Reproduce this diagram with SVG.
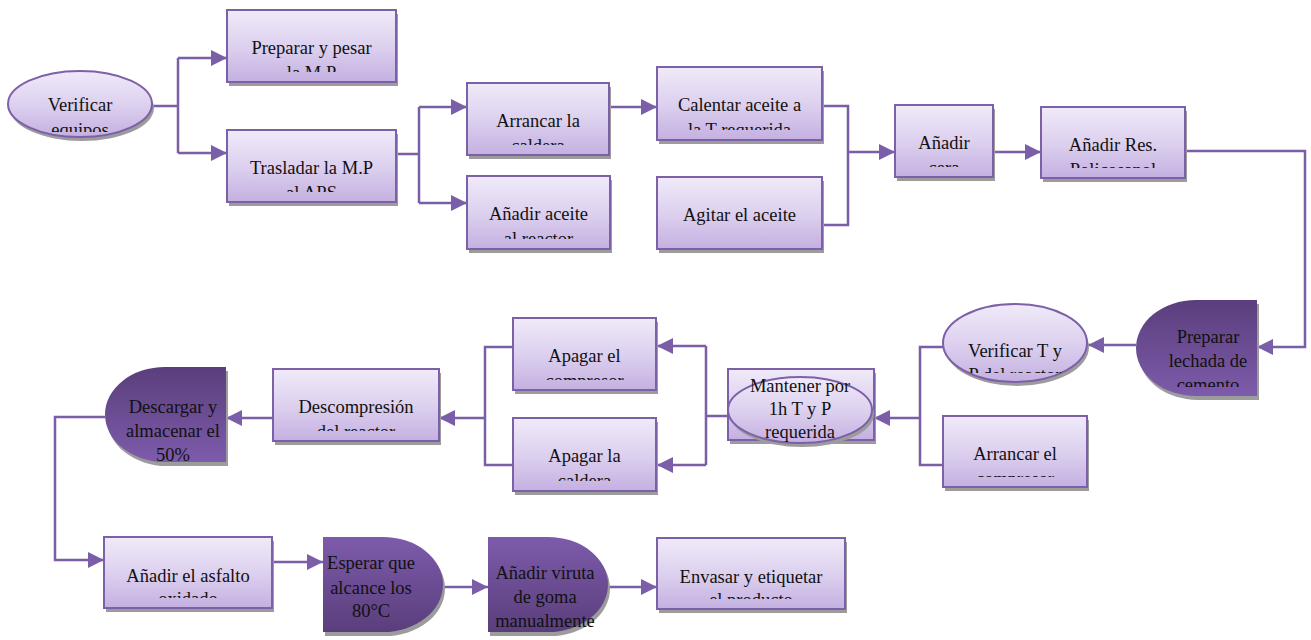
<svg xmlns="http://www.w3.org/2000/svg" width="1311" height="640" viewBox="0 0 1311 640">
<defs>
<linearGradient id="gl" x1="0" y1="0" x2="0" y2="1">
<stop offset="0" stop-color="#f0eaf9"/><stop offset="0.5" stop-color="#ddd1ef"/><stop offset="1" stop-color="#c4b0e1"/>
</linearGradient>
<linearGradient id="gdDown" x1="0" y1="0" x2="0" y2="1">
<stop offset="0" stop-color="#5a3e7c"/><stop offset="1" stop-color="#7d5bab"/>
</linearGradient>
<linearGradient id="gdUp" x1="0" y1="0" x2="0" y2="1">
<stop offset="0" stop-color="#7d5bab"/><stop offset="1" stop-color="#5a3e7c"/>
</linearGradient>
<marker id="arr" markerUnits="userSpaceOnUse" markerWidth="17" markerHeight="16" refX="16" refY="8" orient="auto">
<path d="M0,0 L16,8 L0,16 Z" fill="#7a5ea8"/>
</marker>
<clipPath id="c-prep"><rect x="220" y="0" width="185" height="72"/></clipPath>
<clipPath id="c-trasl"><rect x="220" y="120" width="185" height="72"/></clipPath>
<clipPath id="c-ver"><rect x="0" y="60" width="170" height="72"/></clipPath>
<clipPath id="c-arrL"><rect x="460" y="75" width="160" height="70"/></clipPath>
<clipPath id="c-anAc"><rect x="460" y="170" width="160" height="69"/></clipPath>
<clipPath id="c-cal"><rect x="650" y="60" width="180" height="70"/></clipPath>
<clipPath id="c-cera"><rect x="890" y="100" width="110" height="67"/></clipPath>
<clipPath id="c-res"><rect x="1035" y="100" width="160" height="68"/></clipPath>
<clipPath id="c-lech"><rect x="1130" y="295" width="135" height="92"/></clipPath>
<clipPath id="c-vtp"><rect x="935" y="300" width="160" height="73"/></clipPath>
<clipPath id="c-arrEl"><rect x="935" y="410" width="160" height="67"/></clipPath>
<clipPath id="c-apEl"><rect x="505" y="310" width="160" height="70"/></clipPath>
<clipPath id="c-apLa"><rect x="505" y="410" width="160" height="71"/></clipPath>
<clipPath id="c-desc"><rect x="265" y="360" width="180" height="71"/></clipPath>
<clipPath id="c-asf"><rect x="95" y="530" width="185" height="68"/></clipPath>
<clipPath id="c-env"><rect x="650" y="530" width="200" height="69"/></clipPath>
</defs>
<style>
.box{fill:url(#gl);stroke:#7c61a8;stroke-width:2}
.sh{fill:#9c9c9c}
.dk{stroke:none}
.t{font-family:"Liberation Serif","Times New Roman",serif;font-size:18.5px;fill:#111;text-anchor:middle}
.ln{fill:none;stroke:#7a5ea8;stroke-width:2.5}
.ar{fill:none;stroke:#7a5ea8;stroke-width:2.5;marker-end:url(#arr)}
</style>
<rect width="1311" height="640" fill="#ffffff"/>

<g id="connectors">
<path class="ln" d="M153,106 H178 M178,58 V153"/>
<path class="ar" d="M178,58 H227"/>
<path class="ar" d="M178,153 H227"/>
<path class="ln" d="M396,154 H419 M419,107 V203"/>
<path class="ar" d="M419,107 H467"/>
<path class="ar" d="M419,203 H467"/>
<path class="ar" d="M609,107 H657"/>
<path class="ln" d="M822,106 H848 V225 H822"/>
<path class="ar" d="M848,152 H895"/>
<path class="ar" d="M993,152 H1041"/>
<path class="ar" d="M1185,151 H1305 V347 H1257"/>
<path class="ar" d="M1136,345 H1088"/>
<path class="ln" d="M943,347 H920 V465 H943"/>
<path class="ar" d="M920,418 H874"/>
<path class="ln" d="M728,416 H706 M706,346 V465"/>
<path class="ar" d="M706,346 H657"/>
<path class="ar" d="M706,465 H657"/>
<path class="ln" d="M513,347 H485 V465 H513"/>
<path class="ar" d="M485,418 H439"/>
<path class="ar" d="M273,418 H226"/>
<path class="ar" d="M105,417 H55 V560 H104"/>
<path class="ar" d="M272,562 H323"/>
<path class="ar" d="M443,587 H488"/>
<path class="ar" d="M609,587 H657"/>
</g>

<g id="n-verificar-equipos">
<ellipse class="sh" cx="82" cy="108" rx="72" ry="33"/>
<ellipse class="box" cx="80" cy="104" rx="72" ry="33"/>
<g clip-path="url(#c-ver)"><text class="t" x="80" y="111">Verificar</text><text class="t" x="80" y="136">equipos</text></g>
</g>

<g id="n-preparar-pesar">
<rect class="sh" x="229" y="14" width="169" height="72"/>
<rect class="box" x="227" y="10" width="169" height="72"/>
<g clip-path="url(#c-prep)"><text class="t" x="311.5" y="54">Preparar y pesar</text><text class="t" x="311.5" y="79">la M.P</text></g>
</g>

<g id="n-trasladar">
<rect class="sh" x="229" y="134" width="169" height="72"/>
<rect class="box" x="227" y="130" width="169" height="72"/>
<g clip-path="url(#c-trasl)"><text class="t" x="311.5" y="174">Trasladar la M.P</text><text class="t" x="311.5" y="199">al APS</text></g>
</g>

<g id="n-arrancar-caldera">
<rect class="sh" x="469" y="87" width="142" height="72"/>
<rect class="box" x="467" y="83" width="142" height="72"/>
<g clip-path="url(#c-arrL)"><text class="t" x="538" y="127">Arrancar la</text><text class="t" x="538" y="152">caldera</text></g>
</g>

<g id="n-anadir-aceite">
<rect class="sh" x="469" y="180" width="143" height="73"/>
<rect class="box" x="467" y="176" width="143" height="73"/>
<g clip-path="url(#c-anAc)"><text class="t" x="538.5" y="220">Añadir aceite</text><text class="t" x="538.5" y="245">al reactor</text></g>
</g>

<g id="n-calentar">
<rect class="sh" x="659" y="71" width="165" height="73"/>
<rect class="box" x="657" y="67" width="165" height="73"/>
<g clip-path="url(#c-cal)"><text class="t" x="739.5" y="111">Calentar aceite a</text><text class="t" x="739.5" y="136">la T requerida</text></g>
</g>

<g id="n-agitar">
<rect class="sh" x="659" y="181" width="165" height="72"/>
<rect class="box" x="657" y="177" width="165" height="72"/>
<text class="t" x="739.5" y="221">Agitar el aceite</text>
</g>

<g id="n-anadir-cera">
<rect class="sh" x="897" y="109" width="98" height="72"/>
<rect class="box" x="895" y="105" width="98" height="72"/>
<g clip-path="url(#c-cera)"><text class="t" x="944" y="149">Añadir</text><text class="t" x="944" y="174">cera</text></g>
</g>

<g id="n-anadir-res">
<rect class="sh" x="1043" y="111" width="144" height="71"/>
<rect class="box" x="1041" y="107" width="144" height="71"/>
<g clip-path="url(#c-res)"><text class="t" x="1113" y="151">Añadir Res.</text><text class="t" x="1113" y="176">Policosanol</text></g>
</g>

<g id="n-preparar-lechada">
<path class="sh" d="M1259,304 V400 H1198 A60,48 0 0 1 1198,304 Z"/>
<path class="dk" fill="url(#gdDown)" d="M1257,300 V396 H1196 A60,48 0 0 1 1196,300 Z"/>
<g clip-path="url(#c-lech)"><text class="t" x="1208" y="343">Preparar</text><text class="t" x="1208" y="367">lechada de</text><text class="t" x="1208" y="391">cemento</text></g>
</g>

<g id="n-verificar-tp">
<ellipse class="sh" cx="1017" cy="347" rx="72" ry="39"/>
<ellipse class="box" cx="1015" cy="343" rx="72" ry="39"/>
<g clip-path="url(#c-vtp)"><text class="t" x="1015" y="357">Verificar T y</text><text class="t" x="1015" y="381">P del reactor</text></g>
</g>

<g id="n-arrancar-compresor">
<rect class="sh" x="945" y="420" width="144" height="71"/>
<rect class="box" x="943" y="416" width="144" height="71"/>
<g clip-path="url(#c-arrEl)"><text class="t" x="1015" y="460">Arrancar el</text><text class="t" x="1015" y="485">compresor</text></g>
</g>

<g id="n-mantener">
<rect class="sh" x="730" y="373" width="146" height="71"/>
<rect class="box" x="728" y="369" width="146" height="71"/>
<ellipse class="sh" cx="802" cy="414" rx="72" ry="33"/>
<ellipse class="box" cx="800" cy="410" rx="72" ry="33"/>
<text class="t" x="800" y="392">Mantener por</text>
<text class="t" x="800" y="415">1h T y P</text>
<text class="t" x="800" y="438">requerida</text>
</g>

<g id="n-apagar-compresor">
<rect class="sh" x="515" y="322" width="143" height="72"/>
<rect class="box" x="513" y="318" width="143" height="72"/>
<g clip-path="url(#c-apEl)"><text class="t" x="584.5" y="362">Apagar el</text><text class="t" x="584.5" y="387">compresor</text></g>
</g>

<g id="n-apagar-caldera">
<rect class="sh" x="515" y="422" width="143" height="73"/>
<rect class="box" x="513" y="418" width="143" height="73"/>
<g clip-path="url(#c-apLa)"><text class="t" x="584.5" y="462">Apagar la</text><text class="t" x="584.5" y="487">caldera</text></g>
</g>

<g id="n-descompresion">
<rect class="sh" x="275" y="373" width="166" height="72"/>
<rect class="box" x="273" y="369" width="166" height="72"/>
<g clip-path="url(#c-desc)"><text class="t" x="356" y="413">Descompresión</text><text class="t" x="356" y="438">del reactor</text></g>
</g>

<g id="n-descargar">
<path class="sh" d="M228,371 V466 H167 A60,47.5 0 0 1 167,371 Z"/>
<path class="dk" fill="url(#gdDown)" d="M226,367 V462 H165 A60,47.5 0 0 1 165,367 Z"/>
<text class="t" x="173" y="413">Descargar y</text>
<text class="t" x="173" y="437">almacenar el</text>
<text class="t" x="173" y="461">50%</text>
</g>

<g id="n-asfalto">
<rect class="sh" x="106" y="541" width="168" height="71"/>
<rect class="box" x="104" y="537" width="168" height="71"/>
<g clip-path="url(#c-asf)"><text class="t" x="188" y="582">Añadir el asfalto</text><text class="t" x="188" y="605">oxidado</text></g>
</g>

<g id="n-esperar">
<path class="sh" d="M325,541 H385 A60,47.5 0 0 1 385,636 H325 Z"/>
<path class="dk" fill="url(#gdUp)" d="M323,537 H383 A60,47.5 0 0 1 383,632 H323 Z"/>
<text class="t" x="371" y="569">Esperar que</text>
<text class="t" x="371" y="594">alcance los</text>
<text class="t" x="371" y="617">80°C</text>
</g>

<g id="n-viruta">
<path class="sh" d="M490,541 H550 A60,47.5 0 0 1 550,636 H490 Z"/>
<path class="dk" fill="url(#gdUp)" d="M488,537 H548 A60,47.5 0 0 1 548,632 H488 Z"/>
<text class="t" x="545" y="579">Añadir viruta</text>
<text class="t" x="545" y="603">de goma</text>
<text class="t" x="545" y="627">manualmente</text>
</g>

<g id="n-envasar">
<rect class="sh" x="659" y="542" width="188" height="71"/>
<rect class="box" x="657" y="538" width="188" height="71"/>
<g clip-path="url(#c-env)"><text class="t" x="751" y="583">Envasar y etiquetar</text><text class="t" x="751" y="606">el producto</text></g>
</g>
</svg>
